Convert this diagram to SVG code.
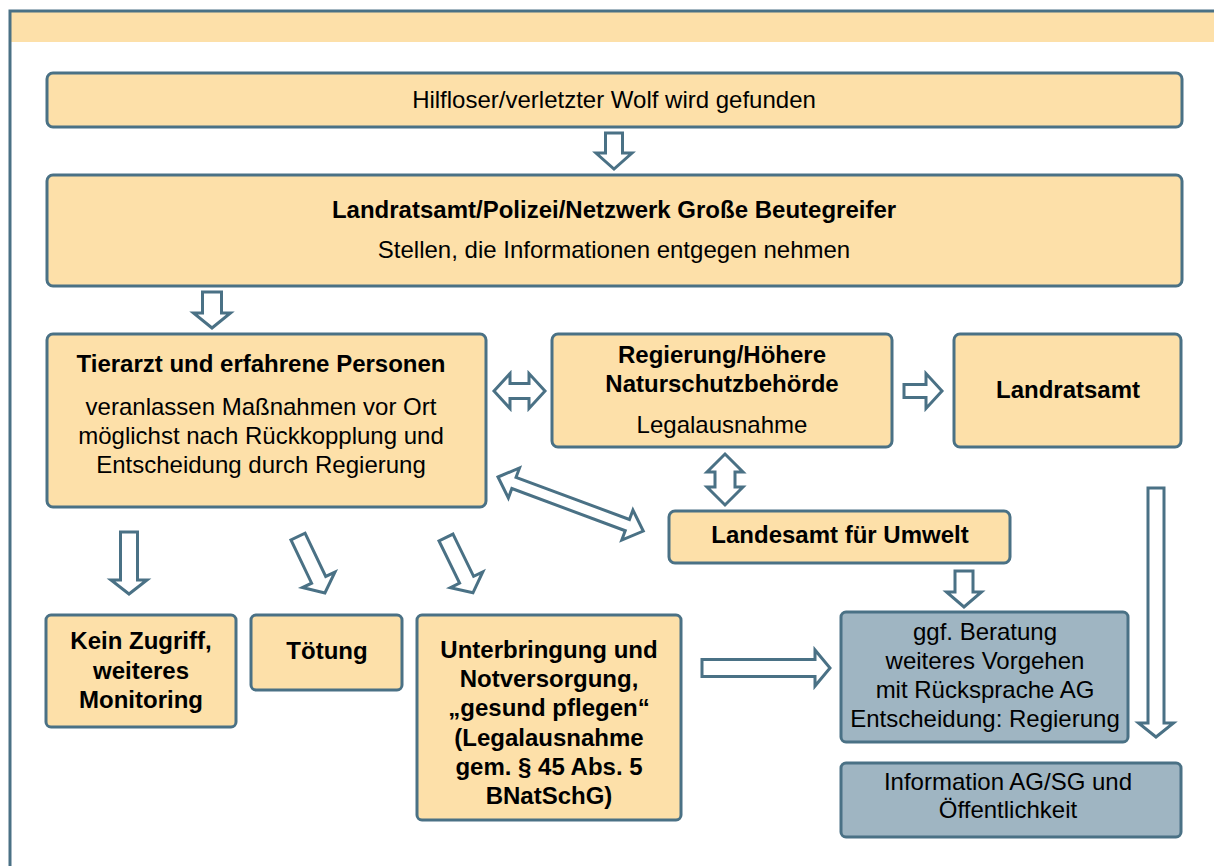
<svg xmlns="http://www.w3.org/2000/svg" width="1214" height="866" viewBox="0 0 1214 866">
<style>
.box{fill:#fde0a9;stroke:#4a7185;stroke-width:3}
.gbox{fill:#9fb5c2;stroke:#4a7185;stroke-width:3}
.arr{fill:#ffffff;stroke:#4a7185;stroke-width:3;stroke-linejoin:miter}
text{font-family:"Liberation Sans",Arial,sans-serif;font-size:24px;fill:#000;text-anchor:middle}
.b{font-weight:bold}
</style>
<rect x="0" y="0" width="1214" height="866" fill="#ffffff"/>
<g id="frame">
<rect x="11" y="12" width="1215" height="30" fill="#fde0a9"/>
<path d="M10 866 V11 H1214" fill="none" stroke="#4a7185" stroke-width="3"/>
</g>
<g id="connectors">
<!-- down arrow top -> Landratsamt -->
<polygon class="arr" transform="translate(614,133) rotate(90)" points="0,-8.5 20,-8.5 20,-18 36,0 20,18 20,8.5 0,8.5"/>
<!-- down arrow -> Tierarzt -->
<polygon class="arr" transform="translate(212,292) rotate(90)" points="0,-9.5 21,-9.5 21,-18.5 36,0 21,18.5 21,9.5 0,9.5"/>
<!-- double horizontal Tierarzt <-> Regierung -->
<polygon class="arr" transform="translate(494,391)" points="0,0 16,-17.5 16,-7.5 35,-7.5 35,-17.5 51,0 35,17.5 35,7.5 16,7.5 16,17.5"/>
<!-- Regierung -> Landratsamt -->
<polygon class="arr" transform="translate(904,391)" points="0,-6.5 22,-6.5 22,-17.5 38,0 22,17.5 22,6.5 0,6.5"/>
<!-- double vertical Regierung <-> Landesamt -->
<polygon class="arr" transform="translate(725,454) rotate(90)" points="0,0 18,-18 18,-10 33,-10 33,-18 51,0 33,18 33,10 18,10 18,18"/>
<!-- diagonal double Tierarzt <-> Landesamt -->
<polygon class="arr" transform="translate(498,477) rotate(20.4)" points="0,0 17,-16 17,-6 138,-6 138,-16 155,0 138,16 138,6 17,6 17,16"/>
<!-- Landesamt -> Beratung -->
<polygon class="arr" transform="translate(964,571) rotate(90)" points="0,-9 21,-9 21,-17.5 36,0 21,17.5 21,9 0,9"/>
<!-- long right arrow Landratsamt -> Information -->
<polygon class="arr" transform="translate(1156,488) rotate(90)" points="0,-8 235,-8 235,-17.5 249,0 235,17.5 235,8 0,8"/>
<!-- Unterbringung -> Beratung -->
<polygon class="arr" transform="translate(702,668)" points="0,-8.5 113,-8.5 113,-18 128,0 113,18 113,8.5 0,8.5"/>
<!-- Tierarzt -> Kein Zugriff -->
<polygon class="arr" transform="translate(129,532) rotate(90)" points="0,-8.5 48,-8.5 48,-18 62,0 48,18 48,8.5 0,8.5"/>
<!-- Tierarzt -> Tötung -->
<polygon class="arr" transform="translate(298,536.5) rotate(64.5)" points="0,-7.8 48,-7.8 48,-18 62.5,0 48,18 48,7.8 0,7.8"/>
<!-- Tierarzt -> Unterbringung -->
<polygon class="arr" transform="translate(446,537.5) rotate(64)" points="0,-7.8 47,-7.8 47,-18 61.5,0 47,18 47,7.8 0,7.8"/>
</g>
<g id="n-found">
<rect class="box" x="47" y="73" width="1135" height="54" rx="6"/>
<text x="614" y="108">Hilfloser/verletzter Wolf wird gefunden</text>
</g>
<g id="n-landratsamt-polizei">
<rect class="box" x="47" y="175" width="1135" height="111" rx="6"/>
<text class="b" x="614" y="218">Landratsamt/Polizei/Netzwerk Große Beutegreifer</text>
<text x="614" y="258">Stellen, die Informationen entgegen nehmen</text>
</g>
<g id="n-tierarzt">
<rect class="box" x="47" y="334" width="439" height="173" rx="6"/>
<text class="b" x="261" y="372">Tierarzt und erfahrene Personen</text>
<text x="261" y="415">veranlassen Maßnahmen vor Ort</text>
<text x="261" y="444">möglichst nach Rückkopplung und</text>
<text x="261" y="473">Entscheidung durch Regierung</text>
</g>
<g id="n-regierung">
<rect class="box" x="552" y="334" width="340" height="113" rx="6"/>
<text class="b" x="722" y="363">Regierung/Höhere</text>
<text class="b" x="722" y="392">Naturschutzbehörde</text>
<text x="722" y="433">Legalausnahme</text>
</g>
<g id="n-landratsamt">
<rect class="box" x="954" y="334" width="227" height="113" rx="6"/>
<text class="b" x="1068" y="398">Landratsamt</text>
</g>
<g id="n-landesamt">
<rect class="box" x="669" y="511" width="341" height="52" rx="6"/>
<text class="b" x="840" y="543">Landesamt für Umwelt</text>
</g>
<g id="n-kein-zugriff">
<rect class="box" x="46" y="615" width="190" height="112" rx="5"/>
<text class="b" x="141" y="649">Kein Zugriff,</text>
<text class="b" x="141" y="679">weiteres</text>
<text class="b" x="141" y="708">Monitoring</text>
</g>
<g id="n-toetung">
<rect class="box" x="251" y="615" width="151" height="75" rx="5"/>
<text class="b" x="327" y="659">Tötung</text>
</g>
<g id="n-unterbringung">
<rect class="box" x="417" y="615" width="264" height="205" rx="5"/>
<text class="b" x="549" y="658">Unterbringung und</text>
<text class="b" x="549" y="687">Notversorgung,</text>
<text class="b" x="549" y="716">„gesund pflegen“</text>
<text class="b" x="549" y="746">(Legalausnahme</text>
<text class="b" x="549" y="775">gem. § 45 Abs. 5</text>
<text class="b" x="549" y="804">BNatSchG)</text>
</g>
<g id="n-beratung">
<rect class="gbox" x="841" y="612" width="287" height="130" rx="5"/>
<text x="985" y="640">ggf. Beratung</text>
<text x="985" y="669">weiteres Vorgehen</text>
<text x="985" y="698">mit Rücksprache AG</text>
<text x="985" y="727">Entscheidung: Regierung</text>
</g>
<g id="n-information">
<rect class="gbox" x="841" y="763" width="340" height="74" rx="5"/>
<text x="1008" y="790">Information AG/SG und</text>
<text x="1008" y="818">Öffentlichkeit</text>
</g>
</svg>
